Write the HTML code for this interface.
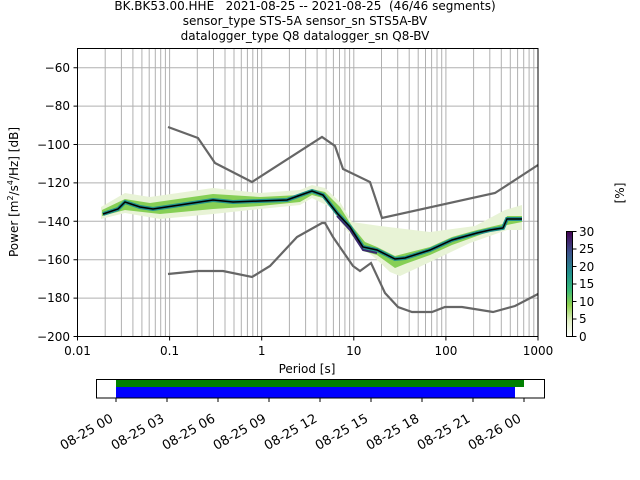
<!DOCTYPE html>
<html><head><meta charset="utf-8"><style>
html,body{margin:0;padding:0;background:#fff}
svg{display:block}
text{font-family:"DejaVu Sans","Liberation Sans",sans-serif;fill:#000;white-space:pre}
</style></head><body>
<svg width="640" height="480" viewBox="0 0 640 480" xmlns="http://www.w3.org/2000/svg" xml:space="preserve">
<rect width="640" height="480" fill="#fff"/>
<g font-size="12" text-anchor="middle">
<text x="305" y="10">BK.BK53.00.HHE   2021-08-25 -- 2021-08-25  (46/46 segments)</text>
<text x="305" y="25">sensor_type STS-5A sensor_sn STS5A-BV</text>
<text x="305" y="40">datalogger_type Q8 datalogger_sn Q8-BV</text>
</g>
<path stroke="#b0b0b0" stroke-width="1" fill="none" d="
M105.2 48.5V336.5M121.4 48.5V336.5M132.9 48.5V336.5M141.9 48.5V336.5M149.2 48.5V336.5M155.3 48.5V336.5M160.7 48.5V336.5M165.4 48.5V336.5
M169.6 48.5V336.5
M197.3 48.5V336.5M213.5 48.5V336.5M225 48.5V336.5M234 48.5V336.5M241.3 48.5V336.5M247.4 48.5V336.5M252.8 48.5V336.5M257.5 48.5V336.5
M261.7 48.5V336.5
M289.4 48.5V336.5M305.6 48.5V336.5M317.1 48.5V336.5M326.1 48.5V336.5M333.4 48.5V336.5M339.5 48.5V336.5M344.9 48.5V336.5M349.6 48.5V336.5
M353.8 48.5V336.5
M381.5 48.5V336.5M397.7 48.5V336.5M409.2 48.5V336.5M418.2 48.5V336.5M425.5 48.5V336.5M431.6 48.5V336.5M437 48.5V336.5M441.7 48.5V336.5
M445.9 48.5V336.5
M473.6 48.5V336.5M489.8 48.5V336.5M501.3 48.5V336.5M510.3 48.5V336.5M517.6 48.5V336.5M523.7 48.5V336.5M529.1 48.5V336.5M533.8 48.5V336.5
M77.5 67.7H538M77.5 106.1H538M77.5 144.5H538M77.5 182.9H538M77.5 221.3H538M77.5 259.7H538M77.5 298.1H538"/>
<polygon fill="#e8f3d6" points="101,207 125,193 150,197 213,188 260,193 300,190 312,185 325,188 340,202 352,222 380,226 430,232 475,226 505,210 522,205 522,230 507,230 470,243 430,262 400,276 390,272 375,258 360,246 345,228 330,207 312,198 300,205 260,209 213,214 160,219 125,213 101,219"/>
<polygon fill="#86cf55" points="102,210 125,199 150,203 213,194 260,197 300,195 312,189 325,192 340,207 352,226 365,242 377,247 395,256 430,247 452,237 477,230 503,224 507,216 522,216 522,222 507,225 477,236 452,245 430,255 405,264 395,268 377,255 363,251 350,231 337,216 323,198 312,195 300,202 260,206 213,209 160,214 125,210 102,216"/>
<polyline fill="none" stroke="#21918c" stroke-width="4" points="103,214 118,209 125,202 140,207 153,209 173,206 193,203 213,200 233,202 260,201 287,200 298,196 312,191 323,195 337,213 350,227 363,247 377,250 395,259 405,258 430,250 452,240 477,233 490,230 503,228 507,219 522,219"/>
<polyline fill="none" stroke="#3b2a6e" stroke-width="2" points="337,216 350,230 363,250 377,253"/>
<polyline fill="none" stroke="#000" stroke-width="1.5" points="103,214 118,209 125,202 140,207 153,209 173,206 193,203 213,200 233,202 260,201 287,200 298,196 312,191 323,195 337,213 350,227 363,247 377,250 395,259 405,258 430,250 452,240 477,233 490,230 503,228 507,219 522,219"/>
<polyline fill="none" stroke="#666" stroke-width="2.2" points="168,127 198,138 215,163 252,182 322,137 335,146 343,169 370,182 382,218 495,193 538,165"/>
<polyline fill="none" stroke="#666" stroke-width="2.2" points="168,274 198,271 223,271 252,277 270,266 297,237 322,223 325,223 333,237 353,266 360,271 371,263 385,293 398,307 412,312 432,312 445,307 462,307 493,312 515,306 538,294"/>
<rect x="77.5" y="48.5" width="460.5" height="288" fill="none" stroke="#000" stroke-width="1"/>
<path stroke="#000" d="M73.5 67.7H77.5M73.5 106.1H77.5M73.5 144.5H77.5M73.5 182.9H77.5M73.5 221.3H77.5M73.5 259.7H77.5M73.5 298.1H77.5M73.5 336.5H77.5
M77.5 336.5V340.5M169.6 336.5V340.5M261.7 336.5V340.5M353.8 336.5V340.5M445.9 336.5V340.5M538 336.5V340.5"/>
<g font-size="12" text-anchor="end">
<text x="70" y="72">−60</text><text x="70" y="110">−80</text><text x="70" y="149">−100</text><text x="70" y="187">−120</text><text x="70" y="226">−140</text><text x="70" y="264">−160</text><text x="70" y="302">−180</text><text x="70" y="341">−200</text>
</g>
<g font-size="12" text-anchor="middle">
<text x="77.5" y="355">0.01</text><text x="169.6" y="355">0.1</text><text x="261.7" y="355">1</text><text x="353.8" y="355">10</text><text x="445.9" y="355">100</text><text x="538" y="355">1000</text>
<text x="307" y="373">Period [s]</text>
</g>
<text font-size="12" text-anchor="middle" transform="translate(18,192) rotate(-90)">Power [m<tspan font-size="8" dy="-5">2</tspan><tspan dy="5">/s</tspan><tspan font-size="8" dy="-5">4</tspan><tspan dy="5">/Hz] [dB]</tspan></text>
<defs><linearGradient id="cb" x1="0" y1="1" x2="0" y2="0">
<stop offset="0" stop-color="#ffffff"/><stop offset="0.15" stop-color="#e0efc4"/><stop offset="0.3" stop-color="#8fd14f"/><stop offset="0.45" stop-color="#35b779"/><stop offset="0.6" stop-color="#21918c"/><stop offset="0.8" stop-color="#3b528b"/><stop offset="1" stop-color="#440154"/></linearGradient></defs>
<rect x="566.5" y="231.5" width="6" height="105" fill="url(#cb)" stroke="#000" stroke-width="1"/>
<path stroke="#000" d="M572.5 231.5h4M572.5 249h4M572.5 266.5h4M572.5 284h4M572.5 301.5h4M572.5 319h4M572.5 336.5h4"/>
<g font-size="12"><text x="579" y="236">30</text><text x="579" y="253">25</text><text x="579" y="271">20</text><text x="579" y="288">15</text><text x="579" y="306">10</text><text x="579" y="323">5</text><text x="579" y="341">0</text></g>
<text font-size="12" text-anchor="middle" transform="translate(624,193) rotate(-90)">[%]</text>
<rect x="116" y="379" width="408" height="8" fill="#008000"/>
<rect x="116" y="387" width="399" height="11" fill="#0000ff"/>
<rect x="96.5" y="379.5" width="448" height="18.5" fill="none" stroke="#000"/>
<path stroke="#000" d="M116 398v4M167 398v4M218 398v4M269 398v4M320 398v4M371 398v4M422 398v4M473 398v4M524 398v4"/>
<g font-size="13" text-anchor="end">
<text transform="translate(114,421) rotate(-30)">08-25 00</text>
<text transform="translate(165,421) rotate(-30)">08-25 03</text>
<text transform="translate(216,421) rotate(-30)">08-25 06</text>
<text transform="translate(267,421) rotate(-30)">08-25 09</text>
<text transform="translate(318,421) rotate(-30)">08-25 12</text>
<text transform="translate(369,421) rotate(-30)">08-25 15</text>
<text transform="translate(420,421) rotate(-30)">08-25 18</text>
<text transform="translate(471,421) rotate(-30)">08-25 21</text>
<text transform="translate(522,421) rotate(-30)">08-26 00</text>
</g>
</svg>
</body></html>
